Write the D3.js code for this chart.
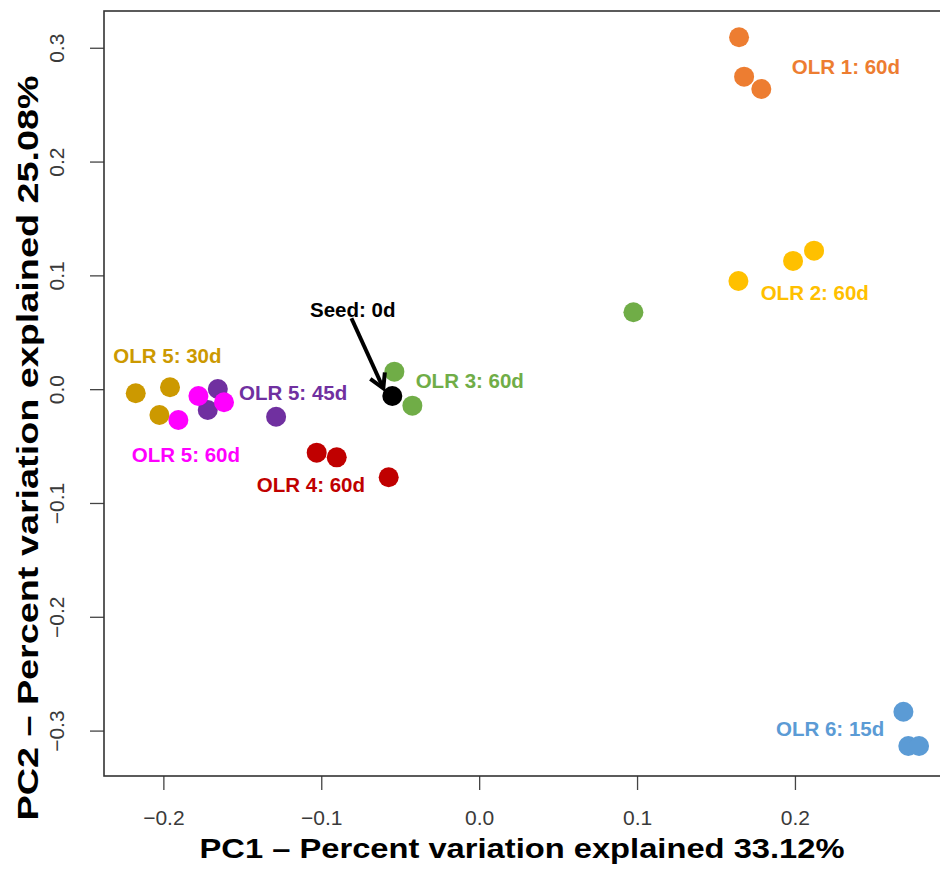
<!DOCTYPE html>
<html>
<head>
<meta charset="utf-8">
<script src="https://cdn.jsdelivr.net/npm/d3@7"></script>
<style>
  html, body { margin: 0; padding: 0; background: #fff; }
  svg { display: block; font-family: "Liberation Sans", Arial, sans-serif; }
</style>
</head>
<body>
<svg id="chart" width="940" height="878"></svg>
<script>
// PCA sample scores (PC1, PC2) per group
const groups = ["Seed: 0d", "OLR 1: 60d", "OLR 2: 60d", "OLR 3: 60d", "OLR 4: 60d",
                "OLR 5: 30d", "OLR 5: 45d", "OLR 5: 60d", "OLR 6: 15d"];
const groupColors = ["#000000", "#ED7D31", "#FFC000", "#70AD47", "#C00000",
                     "#CC9900", "#7030A0", "#FF00FF", "#5B9BD5"];

const pc1Seed = [-0.0550];
const pc2Seed = [-0.0060];
const pc1Olr1 = [0.1646, 0.1678, 0.1787];
const pc2Olr1 = [0.3092, 0.2746, 0.2638];
const pc1Olr2 = [0.1642, 0.1988, 0.2121];
const pc2Olr2 = [0.0951, 0.1127, 0.1217];
const pc1Olr3 = [0.0977, -0.0537, -0.0423];
const pc2Olr3 = [0.0676, 0.0154, -0.0145];
const pc1Olr4 = [-0.1029, -0.0902, -0.0573];
const pc2Olr4 = [-0.0558, -0.0599, -0.0774];
const pc1Olr5d30 = [-0.2175, -0.1958, -0.2025];
const pc2Olr5d30 = [-0.0036, 0.0017, -0.0227];
const pc1Olr5d45 = [-0.1655, -0.1719, -0.1286];
const pc2Olr5d45 = [0.0002, -0.0183, -0.0242];
const pc1Olr5d60 = [-0.1905, -0.1778, -0.1616];
const pc2Olr5d60 = [-0.0271, -0.0060, -0.0115];
const pc1Olr6 = [0.2687, 0.2718, 0.2786];
const pc2Olr6 = [-0.2834, -0.3135, -0.3135];

const pc1Values = [pc1Seed, pc1Olr1, pc1Olr2, pc1Olr3, pc1Olr4, pc1Olr5d30, pc1Olr5d45, pc1Olr5d60, pc1Olr6];
const pc2Values = [pc2Seed, pc2Olr1, pc2Olr2, pc2Olr3, pc2Olr4, pc2Olr5d30, pc2Olr5d45, pc2Olr5d60, pc2Olr6];

// Group label anchors (PC1, PC2 of text start / baseline)
const labelPc1 = [-0.1071, 0.1980, 0.1783, -0.0402, -0.1408, -0.2317, -0.1521, -0.2200, 0.1880];
const labelPc2 = [0.0632, 0.2770, 0.0784, 0.0013, -0.0906, 0.0228, -0.0095, -0.0637, -0.3045];

// Arrow pointing from the seed label to the seed sample
const arrowFrom = [-0.0809, 0.0623];
const arrowTo = [-0.0607, 0.0008];

const xTicks = [-0.2, -0.1, 0.0, 0.1, 0.2];
const yTicks = [-0.3, -0.2, -0.1, 0.0, 0.1, 0.2, 0.3];
const xTitle = "PC1 \u2013 Percent variation explained 33.12%";
const yTitle = "PC2 \u2013 Percent variation explained 25.08%";

const points = [];
groups.forEach((g, i) => {
  pc1Values[i].forEach((v, j) => points.push({ group: i, x: v, y: pc2Values[i][j] }));
});

const svg = d3.select("#chart");
const plot = { left: 104, right: 950, top: 11, bottom: 776 };

const x = d3.scaleLinear().domain([-0.2376, 0.2982]).range([plot.left, plot.right]);
const y = d3.scaleLinear().domain([-0.3399, 0.3323]).range([plot.bottom, plot.top]);

const fmt = d => d === 0 ? "0.0" : d3.format(".1f")(d).replace("-", "\u2212");

// Axes: outer ticks only, no domain line (the box is drawn separately)
const xAxis = svg.append("g")
  .attr("transform", `translate(0,${plot.bottom})`)
  .call(d3.axisBottom(x).tickValues(xTicks).tickFormat(fmt).tickSize(14).tickPadding(22));
const yAxis = svg.append("g")
  .attr("transform", `translate(${plot.left},0)`)
  .call(d3.axisLeft(y).tickValues(yTicks).tickFormat(fmt).tickSize(14).tickPadding(0));

[xAxis, yAxis].forEach(a => {
  a.select(".domain").remove();
  a.selectAll(".tick line").attr("stroke", "#444").attr("stroke-width", 1.3);
  a.selectAll(".tick text")
    .attr("fill", "#3a3a3a")
    .style("font-family", "'Liberation Sans', Arial, sans-serif")
    .style("font-size", "21px");
});
xAxis.selectAll(".tick text").attr("dy", null).attr("y", 49).attr("dominant-baseline", "auto");
yAxis.selectAll(".tick text")
  .attr("x", null).attr("dy", null)
  .attr("text-anchor", "middle")
  .attr("transform", "translate(-33,0) rotate(-90)")
  .attr("y", -7);

// Plot frame
svg.append("rect")
  .attr("x", plot.left).attr("y", plot.top)
  .attr("width", plot.right - plot.left).attr("height", plot.bottom - plot.top)
  .attr("fill", "none").attr("stroke", "#333").attr("stroke-width", 1.6);

// Sample points
svg.append("g").selectAll("circle")
  .data(points)
  .join("circle")
  .attr("cx", d => x(d.x))
  .attr("cy", d => y(d.y))
  .attr("r", 10)
  .attr("fill", d => groupColors[d.group]);

// Group labels
svg.append("g").selectAll("text")
  .data(groups)
  .join("text")
  .attr("x", (d, i) => x(labelPc1[i]))
  .attr("y", (d, i) => y(labelPc2[i]))
  .attr("fill", (d, i) => groupColors[i])
  .style("font-size", "20.5px")
  .style("font-weight", "bold")
  .text(d => d);

// Seed arrow with open V head
const ax0 = x(arrowFrom[0]), ay0 = y(arrowFrom[1]);
const ax1 = x(arrowTo[0]), ay1 = y(arrowTo[1]);
const ang = Math.atan2(ay1 - ay0, ax1 - ax0);
const headLen = 16, headAng = Math.PI / 6;
const arrow = svg.append("g").attr("stroke", "#000").attr("stroke-width", 4)
  .attr("fill", "none").attr("stroke-linecap", "butt").attr("stroke-linejoin", "miter");
arrow.append("line").attr("x1", ax0).attr("y1", ay0).attr("x2", ax1).attr("y2", ay1);
arrow.append("path").attr("d", d3.line()([
  [ax1 - headLen * Math.cos(ang - headAng), ay1 - headLen * Math.sin(ang - headAng)],
  [ax1, ay1],
  [ax1 - headLen * Math.cos(ang + headAng), ay1 - headLen * Math.sin(ang + headAng)]
]));

// Axis titles
svg.append("text")
  .attr("x", 522).attr("y", 858)
  .attr("text-anchor", "middle")
  .attr("textLength", 645).attr("lengthAdjust", "spacingAndGlyphs")
  .style("font-size", "28px").style("font-weight", "bold")
  .attr("fill", "#000")
  .text(xTitle);
svg.append("text")
  .attr("transform", "translate(38,448) rotate(-90)")
  .attr("text-anchor", "middle")
  .attr("textLength", 745).attr("lengthAdjust", "spacingAndGlyphs")
  .style("font-size", "30px").style("font-weight", "bold")
  .attr("fill", "#000")
  .text(yTitle);
</script>
</body>
</html>
